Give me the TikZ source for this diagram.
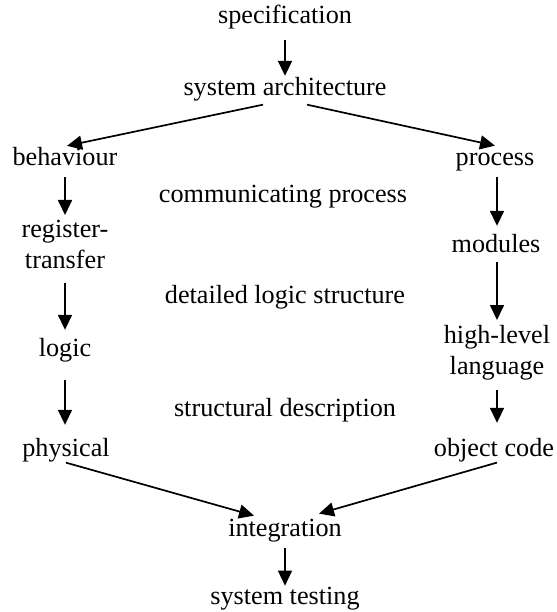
\documentclass[tikz,border=0pt]{standalone}
\usepackage{fontspec}
\setmainfont{Liberation Serif}
\usetikzlibrary{arrows.meta}
\begin{document}
\begin{tikzpicture}[x=1pt,y=-1pt,
  lbl/.style={inner sep=0pt, outer sep=0pt, font=\fontsize{26.2}{31}\selectfont, align=center},
  arr/.style={line width=1.7pt, -{Triangle[length=15pt,width=14pt]}}]
\useasboundingbox (0,0) rectangle (556,612);
\node[lbl,anchor=base] (spec) at (285,24) {specification};
\node[lbl,anchor=base] (sys) at (285,96) {system architecture};
\node[lbl,anchor=base] (beh) at (65,166) {behaviour};
\node[lbl,anchor=base] (proc) at (495,166) {process};
\node[lbl,anchor=base] (comm) at (283,203) {communicating process};
\node[lbl,anchor=north] (reg) at (65,220) {register-\\transfer};
\node[lbl,anchor=base] (mod) at (496,252) {modules};
\node[lbl,anchor=base] (det) at (285,303) {detailed logic structure};
\node[lbl,anchor=base] (log) at (65,356) {logic};
\node[lbl,anchor=north] (hll) at (497,325) {high-level\\language};
\node[lbl,anchor=base] (str) at (285,416) {structural description};
\node[lbl,anchor=base] (phy) at (66,456) {physical};
\node[lbl,anchor=base] (obj) at (494,456) {object code};
\node[lbl,anchor=base] (int) at (285,536) {integration};
\node[lbl,anchor=base] (tst) at (285,604) {system testing};
\draw[arr] ([yshift=-10pt]spec.south) -- ([yshift=2pt]sys.north);
\draw[arr] ([xshift=-22pt,yshift=-3pt]sys.south) -- ([xshift=2pt,yshift=2pt]beh.north);
\draw[arr] ([xshift=22pt,yshift=-3pt]sys.south) -- ([yshift=8pt]proc.north);
\draw[arr] ([yshift=-11pt]beh.south) -- ([yshift=5pt]reg.north);
\draw[arr] ([yshift=-14pt]reg.south) -- ([yshift=8pt]log.north);
\draw[arr] ([yshift=-18pt]log.south) -- ([xshift=-1pt,yshift=13pt]phy.north);
\draw[arr] ([xshift=2pt,yshift=-5pt]proc.south) -- ([xshift=1pt,yshift=8pt]mod.north);
\draw[arr] ([xshift=1pt,yshift=-10pt]mod.south) -- ([yshift=5pt]hll.north);
\draw[arr] ([yshift=-10pt]hll.south) -- ([xshift=3pt,yshift=15pt]obj.north);
\draw[arr] ([yshift=-1pt]phy.south) -- ([xshift=-31pt,yshift=3pt]int.north);
\draw[arr] ([xshift=3pt,yshift=-1pt]obj.south) -- ([xshift=34pt,yshift=5pt]int.north);
\draw[arr] ([yshift=-6pt]int.south) -- ([yshift=1pt]tst.north);
\end{tikzpicture}
\end{document}
